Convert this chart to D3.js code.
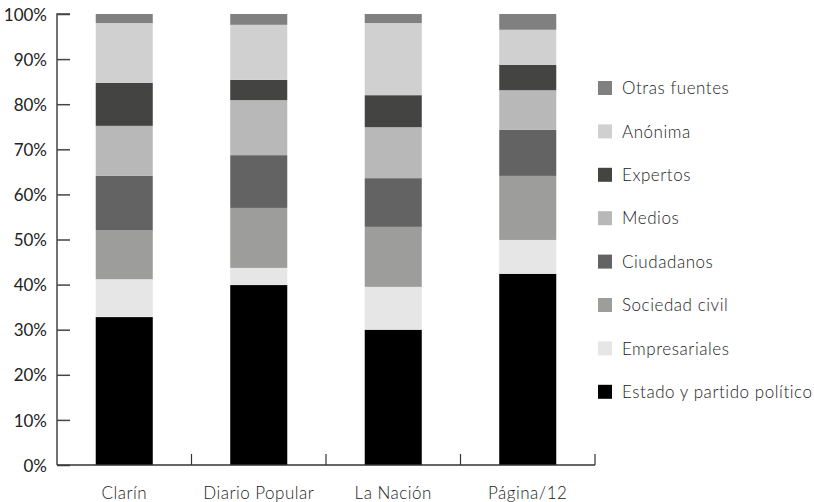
<!DOCTYPE html>
<html><head><meta charset="utf-8">
<script src="https://cdn.jsdelivr.net/npm/d3@7"></script>
<style>
html,body{margin:0;padding:0;background:#fff;}
svg{display:block;font-family:Lato,"Open Sans",sans-serif;}
</style></head>
<body><svg id="chart" width="814" height="502"></svg>
<script>
const categories = ["Clarín", "Diario Popular", "La Nación", "Página/12"];
const seriesNames = ["Estado y partido político", "Empresariales", "Sociedad civil", "Ciudadanos", "Medios", "Expertos", "Anónima", "Otras fuentes"];
const estado        = [32.8, 39.9, 30.0, 42.4];
const empresariales = [8.4, 3.8, 9.5, 7.5];
const sociedadCivil = [10.9, 13.3, 13.3, 14.2];
const ciudadanos    = [12.0, 11.7, 10.8, 10.2];
const medios        = [11.1, 12.2, 11.3, 8.8];
const expertos      = [9.5, 4.5, 7.1, 5.6];
const anonima       = [13.3, 12.2, 16.0, 7.8];
const otras         = [2.0, 2.4, 2.0, 3.5];
const yTicks = [0, 10, 20, 30, 40, 50, 60, 70, 80, 90, 100];
const colors = ["#000000", "#e6e6e6", "#9d9d9b", "#636363", "#b8b8b8", "#444442", "#d0d0d0", "#808080"];

const seriesValues = [estado, empresariales, sociedadCivil, ciudadanos, medios, expertos, anonima, otras];
const table = categories.map((c, i) => {
  const row = {cat: c};
  seriesNames.forEach((s, j) => row[s] = seriesValues[j][i]);
  return row;
});

const svg = d3.select("#chart");
const m = {left: 57};
const x = d3.scaleBand().domain(categories).range([m.left, 595]).paddingInner(0.576).paddingOuter(0.288);
const y = d3.scaleLinear().domain([0, 100]).range([465, 14]);
const color = d3.scaleOrdinal().domain(seriesNames).range(colors);

const stack = d3.stack().keys(seriesNames)(table);
svg.append("g").selectAll("g").data(stack).join("g")
  .attr("fill", d => color(d.key))
  .selectAll("rect").data(d => d).join("rect")
  .attr("x", d => x(d.data.cat))
  .attr("width", x.bandwidth())
  .attr("y", d => y(d[1]))
  .attr("height", d => y(d[0]) - y(d[1]));

// y axis
const yAxis = svg.append("g").attr("transform", `translate(${m.left},0)`)
  .call(d3.axisRight(y).tickValues(yTicks).tickSize(13).tickFormat(d => d + "%"));
yAxis.select(".domain").attr("stroke", "#444").attr("stroke-width", 1.5).attr("d", `M13,${y(100)}H0V${y(0)}`);
yAxis.selectAll(".tick line").attr("stroke", "#444").attr("stroke-width", 1.5);
yAxis.selectAll(".tick text").attr("x", -10).attr("text-anchor", "end").attr("dy", "0.36em")
  .attr("font-size", 17).attr("font-family", "Lato").attr("fill", "#222");

// x axis
const xg = svg.append("g");
xg.append("line").attr("x1", m.left).attr("x2", 595).attr("y1", y(0)).attr("y2", y(0)).attr("stroke", "#333").attr("stroke-width", 1.5);
xg.selectAll("line.tk").data(categories.map(c => x(c) + x.bandwidth() / 2 + x.step() / 2)).join("line")
  .attr("class", "tk")
  .attr("x1", d => d).attr("x2", d => d).attr("y1", y(0)).attr("y2", y(0) - 11)
  .attr("stroke", "#333").attr("stroke-width", 1.2);
xg.selectAll("text").data(categories).join("text")
  .attr("x", d => x(d) + x.bandwidth() / 2).attr("y", 499)
  .attr("text-anchor", "middle").attr("font-size", 17).attr("font-weight", 300)
  .attr("letter-spacing", 0.5).attr("fill", "#222").text(d => d);

// legend
const legendOrder = seriesNames.slice().reverse();
const lg = svg.append("g");
const li = lg.selectAll("g").data(legendOrder).join("g")
  .attr("transform", (d, i) => `translate(598,${88 + i * 43.4})`);
li.append("rect").attr("x", 0).attr("y", -7).attr("width", 14).attr("height", 14).attr("fill", d => color(d));
li.append("text").attr("x", 24).attr("dy", "0.36em").attr("font-size", 17).attr("font-weight", 300)
  .attr("letter-spacing", 0.55).attr("fill", "#222").text(d => d);
</script></body></html>
